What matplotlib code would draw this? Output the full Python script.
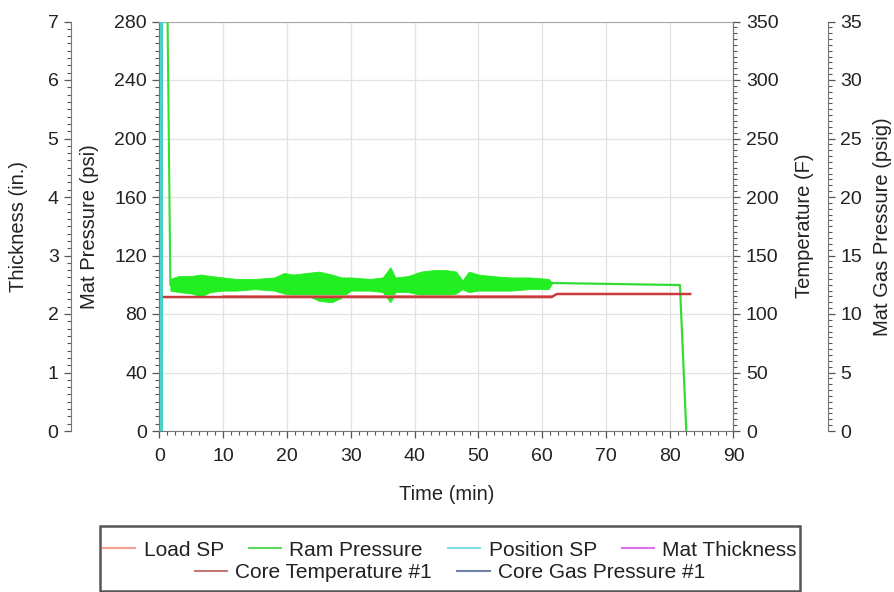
import numpy as np
import matplotlib.pyplot as plt
from matplotlib.lines import Line2D
from matplotlib.patches import Rectangle
from matplotlib.ticker import MultipleLocator

plt.rcParams['font.family'] = ['Liberation Sans', 'DejaVu Sans']

# ram pressure (psi) outside the noisy stretch
ram_start_t = [0, 0.35, 0.4, 1.15, 1.7]
ram_start_p = [0, 0, 330, 330, 100]
ram_end_t = [61.5, 70, 81.6, 82.6]
ram_end_p = [101.2, 100.6, 99.8, 0]

# noisy band of ram pressure (psi): time, upper and lower edge
band_t = [1.7, 3, 5, 6.5, 8, 10, 12, 15, 18, 19.5, 21, 23, 25, 27, 28.5, 30, 33, 35,
          36.2, 37, 39, 41, 43, 45, 46.5, 47.5, 48.5, 50, 52, 55, 58, 61, 61.5]
band_hi = [104, 106, 106, 107, 106, 105, 104, 104, 105, 108, 107, 108, 109, 107, 105, 105, 104, 105,
           112, 105, 106, 109, 110, 110, 109, 103, 109, 107, 106, 105, 105, 104, 101.5]
band_lo = [96, 95, 94, 92, 95, 96, 96, 97, 96, 94, 93, 93, 89, 88, 91, 96, 96, 95,
           88, 95, 95, 93, 93, 93, 94, 97, 95, 96, 96, 96, 97, 97, 100.5]

# load set point (psi)
load_t = [10, 61.5]
load_p = [92, 92]

# core temperature (F)
temp_t = [0.3, 61.5, 62.3, 83.2]
temp_f = [114.5, 114.5, 117.1, 117.1]

# position set point (in.)
pos_t = [0.25, 0.25]
pos_in = [0, 7.5]

fig = plt.figure(figsize=(8.95, 5.92), dpi=100)
ax = fig.add_axes([159.5/895, 1-431/592, 574/895, 409.5/592])
ax_t = ax.twinx()
ax_th = ax.twinx()
ax_g = ax.twinx()

tick_col = '#555555'
txt_col = '#222222'

ax.fill_between(band_t, band_lo, band_hi, color='#22ee22', lw=0.6, zorder=3)
ax.plot(ram_start_t, ram_start_p, color='#33e033', lw=1.5, zorder=3)
ax.plot(ram_end_t, ram_end_p, color='#33dd33', lw=1.6, zorder=3)
ax.plot(load_t, load_p, color='#ee8888', lw=1.3, zorder=4)
ax_t.plot(temp_t, temp_f, color='#c83c3c', lw=1.8)
ax_th.plot(pos_t, pos_in, color='#40d0d0', lw=2.0)

ax.set_xlim(0, 90)
ax.set_ylim(0, 280)
ax_t.set_ylim(0, 350)
ax_th.set_ylim(0, 7)
ax_g.set_ylim(0, 35)

ax.xaxis.set_major_locator(MultipleLocator(10))
ax.xaxis.set_minor_locator(MultipleLocator(1.25))
ax.yaxis.set_major_locator(MultipleLocator(40))
ax.yaxis.set_minor_locator(MultipleLocator(5))
ax_t.yaxis.set_major_locator(MultipleLocator(50))
ax_t.yaxis.set_minor_locator(MultipleLocator(5))
ax_th.yaxis.set_major_locator(MultipleLocator(1))
ax_th.yaxis.set_minor_locator(MultipleLocator(0.125))
ax_g.yaxis.set_major_locator(MultipleLocator(5))
ax_g.yaxis.set_minor_locator(MultipleLocator(0.5))

ax.grid(True, which='major', color='#e2e2e2', lw=0.9)
ax.set_axisbelow(True)

# thickness axis on the far left
ax_th.spines['left'].set_position(('axes', -0.154))
ax_th.spines['left'].set_visible(True)
ax_th.yaxis.set_ticks_position('left')
ax_th.yaxis.set_label_position('left')
for s in ['right', 'top', 'bottom']:
    ax_th.spines[s].set_visible(False)

# gas pressure axis on the far right
ax_g.spines['right'].set_position(('axes', 1.1646))
for s in ['left', 'top', 'bottom']:
    ax_g.spines[s].set_visible(False)
for s in ['left', 'top', 'bottom']:
    ax_t.spines[s].set_visible(False)

for a in [ax, ax_t, ax_th, ax_g]:
    for s in a.spines.values():
        s.set_color('#777777')
    a.tick_params(which='major', length=5, width=0.9, color=tick_col, labelsize=14,
                  labelcolor=txt_col, pad=4)
    a.tick_params(which='minor', length=3, width=0.8, color=tick_col)
ax.tick_params(axis='x', which='major', pad=7)
ax.spines['top'].set_color('#aaaaaa')

ax.set_xlabel('Time (min)', fontsize=14.5, color=txt_col)
ax.set_ylabel('Mat Pressure (psi)', fontsize=14.5, color=txt_col)
ax_t.set_ylabel('Temperature (F)', fontsize=14.5, color=txt_col)
ax_th.set_ylabel('Thickness (in.)', fontsize=14.5, color=txt_col)
ax_g.set_ylabel('Mat Gas Pressure (psig)', fontsize=14.5, color=txt_col)

ax.xaxis.set_label_coords(0.5, (431-494)/409.5)
ax.yaxis.set_label_coords((90-159.5)/574, 0.5)
ax_th.yaxis.set_label_coords((19-159.5)/574, 0.5)
ax_t.yaxis.set_label_coords((805-159.5)/574, 0.5)
ax_g.yaxis.set_label_coords((883-159.5)/574, 0.5)
for a in [ax, ax_t, ax_th, ax_g]:
    a.yaxis.label.set_va('center')
    a.yaxis.label.set_ha('center')
ax.xaxis.label.set_va('center')

h1 = [Line2D([], [], color='#f4a090', lw=1.5, label='Load SP'),
      Line2D([], [], color='#60d860', lw=1.5, label='Ram Pressure'),
      Line2D([], [], color='#80e0e8', lw=1.5, label='Position SP'),
      Line2D([], [], color='#e070f0', lw=1.5, label='Mat Thickness')]
h2 = [Line2D([], [], color='#c07878', lw=1.5, label='Core Temperature #1'),
      Line2D([], [], color='#7080a8', lw=1.5, label='Core Gas Pressure #1')]
opts = dict(loc='center', frameon=False, fontsize=15, handlelength=1.55,
            handletextpad=0.4, columnspacing=1.2, borderpad=0, borderaxespad=0,
            labelcolor=txt_col)
fig.legend(handles=h1, ncol=4, bbox_to_anchor=(450/895, 1-550/592), **opts)
fig.legend(handles=h2, ncol=2, bbox_to_anchor=(450/895, 1-573/592), **opts)
# frame round both legend rows
fig.patches.append(Rectangle((100/895, 1/592), 700/895, 65/592,
                             transform=fig.transFigure, fill=False, ec='#555555', lw=1.8))

fig.savefig('out.png', dpi=100)
